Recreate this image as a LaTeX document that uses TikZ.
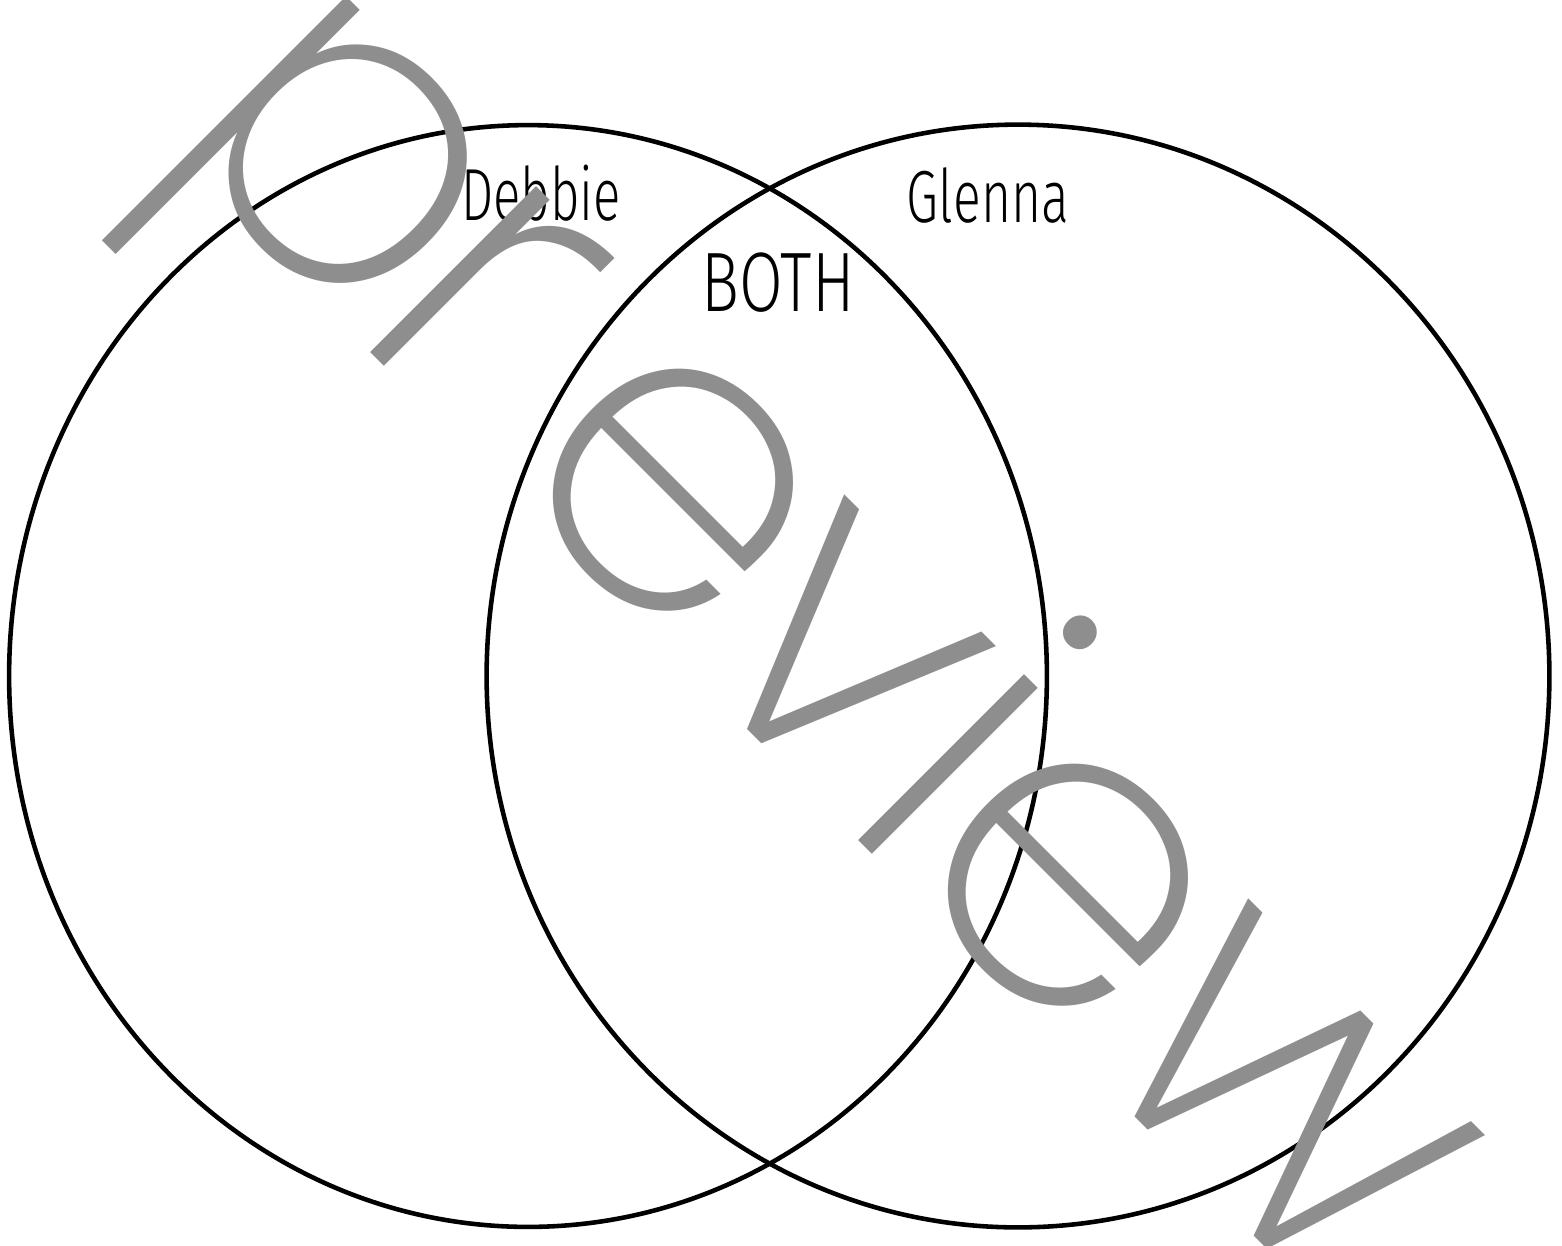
\documentclass[tikz,border=0pt]{standalone}
\usepackage{fontspec}
\usepackage{tikz}
\usetikzlibrary{positioning, shapes.geometric}
\newfontfamily\stampfont{Poppins ExtraLight}
\newfontfamily\namefont{Fira Sans Light}
\definecolor{stampgray}{RGB}{142,142,142}

\begin{document}
\begin{tikzpicture}[
    x=0.02cm, y=-0.02cm,
    ring/.style    = {ellipse, draw, line width=2.6pt, inner sep=0pt},
    setname/.style = {font=\namefont\fontsize{42}{42}\selectfont, inner sep=0pt, anchor=base},
    stamp/.style   = {text=stampgray, font=\stampfont\fontsize{246}{246}\selectfont,
                      rotate=-45, inner sep=0pt, anchor=base}
]
\useasboundingbox (0,0) rectangle (1562,1245);
% the two sets
\node[ring, minimum width=20.76cm, minimum height=22.04cm] (debbieset) at (528,676) {};
\node[ring, minimum width=21.26cm, minimum height=22.06cm] (glennaset) at (1018,676) {};
% set names
\node[setname] (debbie) at (541,220) {\scalebox{0.69}[1]{Debbie}};
\node[setname] (glenna) at (988,222) {\scalebox{0.7}[1]{Glenna}};
\node[setname, font=\namefont\fontsize{48}{48}\selectfont] (both) at (778,311) {\scalebox{0.75}[1]{BOTH}};
% watermark
\node[stamp] (preview) at (740,722) {p\kern-13pt r\kern33pt e\kern-9pt v\kern-2pt i\kern-7pt e\kern-2pt w};
\end{tikzpicture}
\end{document}
